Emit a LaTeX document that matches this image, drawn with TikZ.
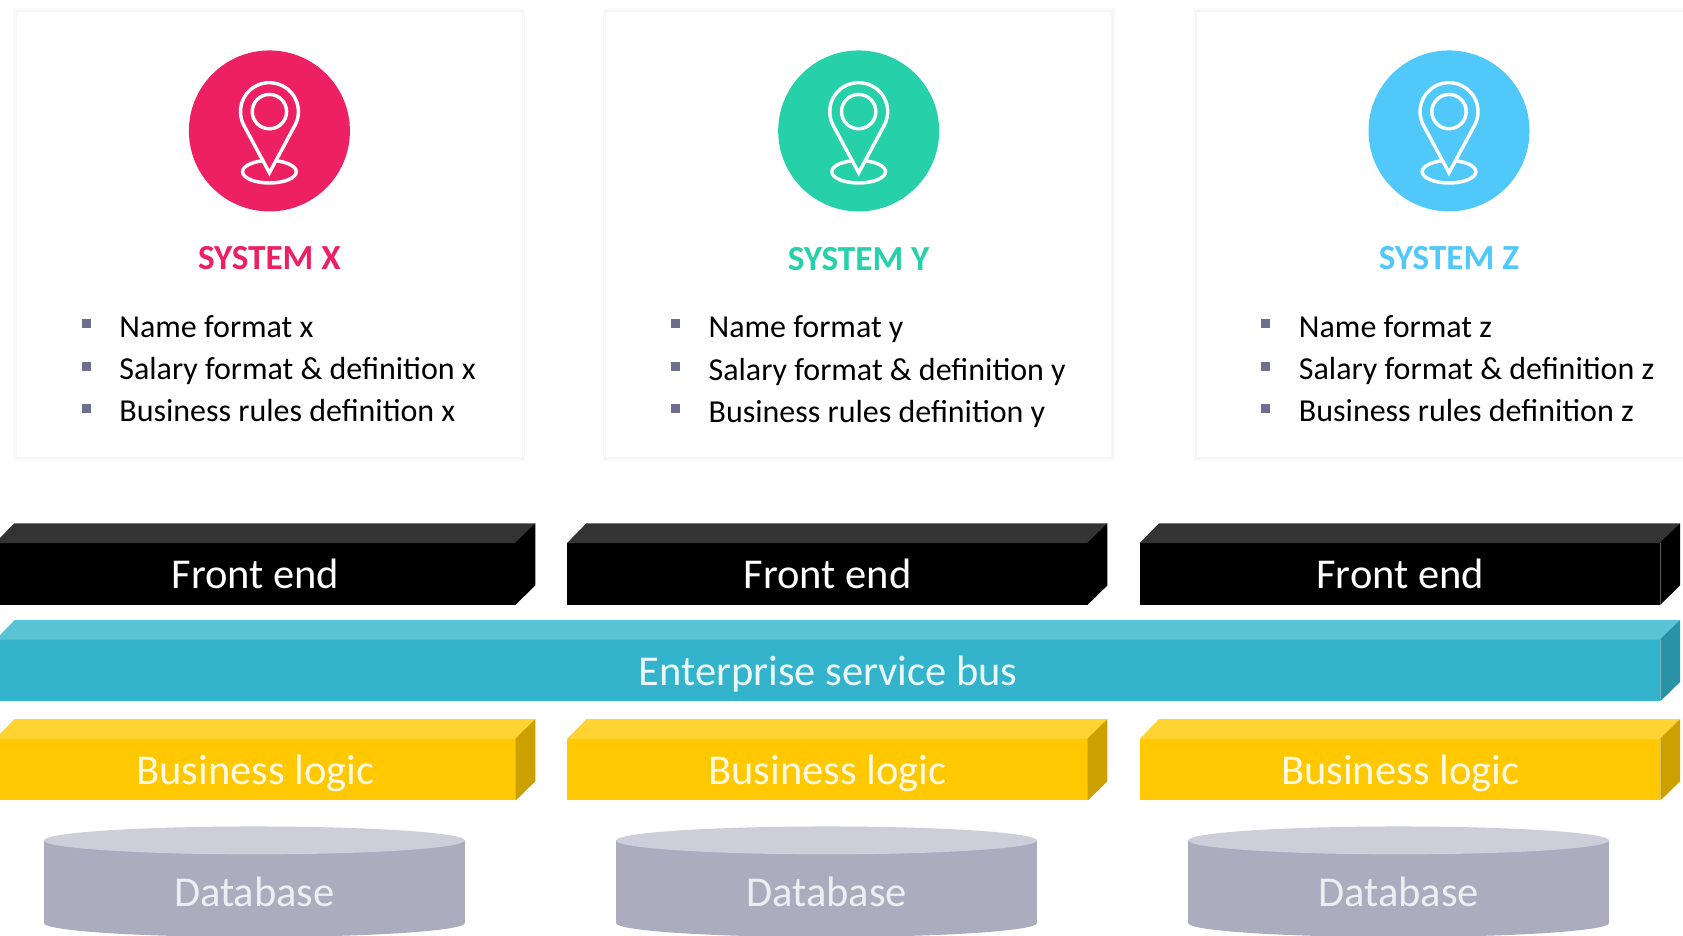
\documentclass[tikz,border=0pt]{standalone}
\usepackage{fontspec}
\setmainfont{Carlito}
\usepackage{xcolor}

\begin{document}
\begin{tikzpicture}[x=1pt,y=1pt,
  cardbox/.style={fill=white,preaction={draw=black!2,line width=7pt},preaction={draw=black!4,line width=3pt}},
  pinline/.style={draw=white,line width=3.2pt},
  itemtext/.style={anchor=base west,inner sep=0,font=\fontsize{29.8}{35}\selectfont},
  titletext/.style={anchor=base,inner sep=0,font=\fontsize{32.8}{38}\selectfont\bfseries},
  layerbox/.style={inner sep=0,minimum height=57.5,text height=28,text depth=0,font=\fontsize{39.6}{46}\selectfont},
  dbtext/.style={inner sep=0,text=white,text opacity=.8,font=\fontsize{39.6}{46}\selectfont}]
\definecolor{pinkx}{HTML}{ED2064}
\definecolor{greeny}{HTML}{26D0A9}
\definecolor{bluez}{HTML}{50C9FA}
\definecolor{bullet}{HTML}{6E6E90}
\definecolor{darktop}{HTML}{333333}
\definecolor{busfront}{HTML}{33B4CC}
\definecolor{bustop}{HTML}{5BC3D6}
\definecolor{busside}{HTML}{2A92A6}
\definecolor{logicfront}{HTML}{FFC800}
\definecolor{logictop}{HTML}{FFD432}
\definecolor{logicside}{HTML}{CCA000}
\definecolor{dbside}{HTML}{ABACBE}
\definecolor{dbtop}{HTML}{CDCED9}
\useasboundingbox (0,0) rectangle (1568,872);
\clip (0,0) rectangle (1568,872);
\fill[white] (0,0) rectangle (1568,872);
% system cards
\foreach \crlr/\nm/\suf/\xc/\dy in {pinkx/X/x/251/0,greeny/Y/y/800/1,bluez/Z/z/1350/0}
{
  \begin{scope}[shift={(\xc,0)}]
  \path[cardbox] (-235,446) rectangle (235,861);
  \fill[\crlr] (0,750) circle (75);
  \draw[pinline] (0,712) ellipse (25 and 10.5);
  \draw[pinline,fill=\crlr] (0,711) -- ([shift={(0,768)}]208:27) arc[start angle=208,end angle=-28,radius=27] -- cycle;
  \draw[pinline] (0,768) circle (16);
  \node[titletext,text=\crlr] (title\suf) at (0,621-\dy) {SYSTEM \nm};
  \foreach \row/\yy/\txt in {1/558/Name format,2/518/Salary format \& definition,3/479/Business rules definition}
  {
    \fill[bullet] (-175,\yy+16.5) rectangle ++(8.5,-8.5);
    \node[itemtext] (item\suf\row) at (-140,\yy-\dy*\row/3) {\txt\ \suf};
  }
  \end{scope}
}
% layers
\foreach \lname/\xc/\wdt/\yy/\crf/\crt/\crs/\lab/\crx in {
  front1/238/485/337.5/black/darktop/black/Front end/white,
  front2/771/485/337.5/black/darktop/black/Front end/white,
  front3/1304.5/485/337.5/black/darktop/black/Front end/white,
  bus/771.5/1551/247.5/busfront/bustop/busside/Enterprise service bus/white!90!busfront,
  logic1/238/485/155/logicfront/logictop/logicside/Business logic/white!90!logicfront,
  logic2/771/485/155/logicfront/logictop/logicside/Business logic/white!90!logicfront,
  logic3/1304.5/485/155/logicfront/logictop/logicside/Business logic/white!90!logicfront}
{
  \node[layerbox,fill=\crf,text=\crx,minimum width=\wdt] (\lname) at (\xc,\yy) {\lab};
  \fill[\crt] ([yshift=-.4]\lname.north west) -- ++(18,18.4) -- ([shift={(18,18)}]\lname.north east) -- ([yshift=-.4]\lname.north east) -- cycle;
  \fill[\crs] ([xshift=-.4]\lname.north east) -- ++(18.4,18) -- ([shift={(18,18)}]\lname.south east) -- ([xshift=-.4]\lname.south east) -- cycle;
}
% databases
\foreach \pos/\xc in {1/237,2/770,3/1303}
{
  \begin{scope}[shift={(\xc,0)}]
  \fill[dbside] (-196,89) -- (-196,12) arc[start angle=180,end angle=360,x radius=196,y radius=13] -- (196,89) -- cycle;
  \fill[dbtop] (0,89) ellipse (196 and 13);
  \node[dbtext] (db\pos) at (0,41) {Database};
  \end{scope}
}
\end{tikzpicture}
\end{document}
